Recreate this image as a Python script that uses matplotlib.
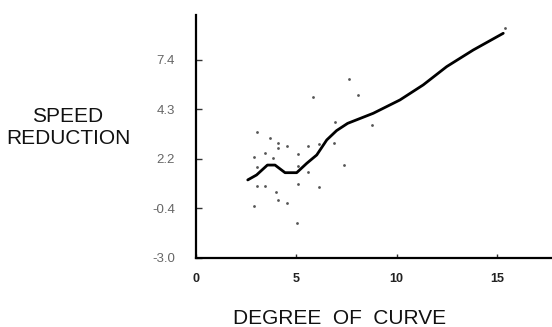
import matplotlib
matplotlib.use("Agg")
import matplotlib.pyplot as plt

# Smoothed trend line
line_x = [2.58, 3.02, 3.56, 3.94, 4.44, 5.02, 5.52, 6.02, 6.52, 7.01, 7.56, 8.84, 10.17, 11.33, 12.50, 13.82, 15.32]
line_y = [1.10, 1.36, 1.88, 1.88, 1.48, 1.48, 1.97, 2.41, 3.20, 3.69, 4.07, 4.60, 5.30, 6.09, 7.05, 7.92, 8.80]

# Observed points
pts_x = [3.06, 3.69, 2.89, 3.44, 3.84, 4.07, 4.07, 4.55, 5.10, 5.60, 6.15, 6.93, 6.88, 7.63, 8.09,
         5.85, 8.79, 7.39, 3.06, 3.06, 3.44, 4.00, 4.07, 4.55, 2.89, 5.10, 5.10, 5.60, 6.13, 5.05, 15.40]
pts_y = [3.63, 3.32, 2.29, 2.53, 2.27, 3.06, 2.79, 2.88, 2.46, 2.88, 2.97, 4.14, 3.02, 6.42, 5.56,
         5.47, 3.97, 1.90, 1.80, 0.80, 0.80, 0.45, 0.05, -0.10, -0.27, 0.89, 1.83, 1.53, 0.71, -1.15, 9.06]

x_ticks = [0, 5, 10, 15]
x_tick_labels = ["0", "5", "10", "15"]
y_ticks = [-3.0, -0.4, 2.2, 4.8, 7.4]
y_tick_labels = ["-3.0", "-0.4", "2.2", "4.3", "7.4"]

plt.rcParams['font.family'] = ['Liberation Sans', 'DejaVu Sans']

fig = plt.figure(figsize=(5.52, 3.27), dpi=100)
ax = fig.add_axes([196/552, 1 - 258/327, 1 - 196/552, (258 - 15)/327])

ax.scatter(pts_x, pts_y, s=4, color="#555555", linewidths=0, zorder=2)
ax.plot(line_x, line_y, color="black", lw=2.0, solid_capstyle="round", zorder=3)

ax.set_xlim(0, 17.75)
ax.set_ylim(-3.0, 9.76)

for s in ["top", "right"]:
    ax.spines[s].set_visible(False)
for s in ["left", "bottom"]:
    ax.spines[s].set_linewidth(1.6)
    ax.spines[s].set_color("black")

ax.set_xticks(x_ticks)
ax.set_xticklabels(x_tick_labels, fontsize=9, fontweight="bold", color="#222222")
ax.set_yticks(y_ticks)
ax.set_yticklabels(y_tick_labels, fontsize=9.5, color="#666666")
ax.tick_params(axis="y", direction="in", length=4, width=1, pad=15, color="#333333")
ax.tick_params(axis="x", direction="in", length=3, width=1, pad=11, color="#333333")

fig.text(68/552, 1 - 127.5/327, "SPEED\nREDUCTION", ha="center", va="center",
         fontsize=15, linespacing=1.2, color="#111111")
fig.text(340/552, 1 - 319/327, "DEGREE  OF  CURVE", ha="center", va="center",
         fontsize=15, color="#111111")

fig.savefig("out.png", dpi=100)
